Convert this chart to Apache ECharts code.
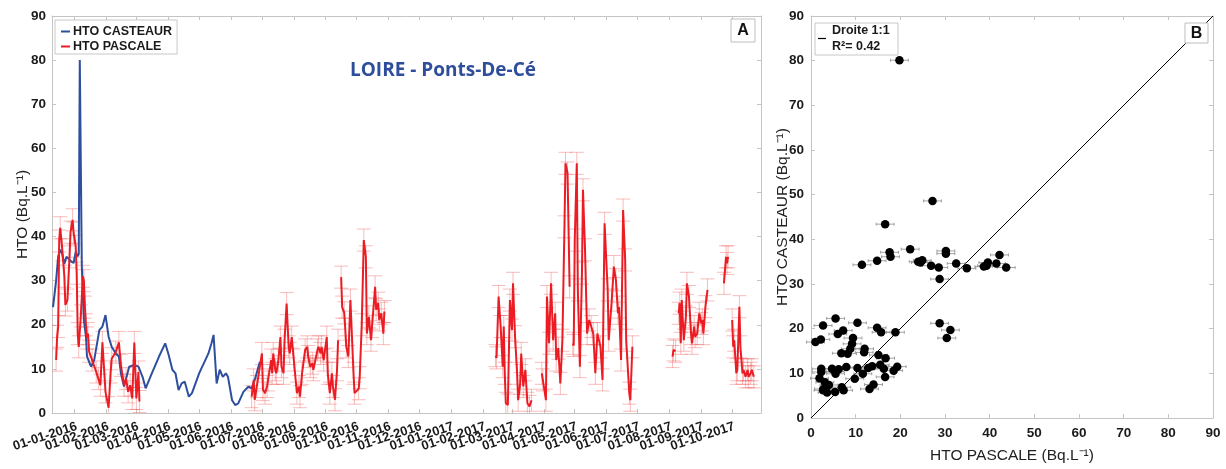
<!DOCTYPE html>
<html><head><meta charset="utf-8">
<script src="https://cdn.jsdelivr.net/npm/echarts@6/dist/echarts.min.js"></script>
<style>html,body{margin:0;padding:0;background:#fff}#c{width:1226px;height:469px}</style>
</head><body><div id="c"></div>
<script>
// ---------- DATA ----------
const TICK_LABELS = ['01-01-2016','01-02-2016','01-03-2016','01-04-2016','01-05-2016','01-06-2016','01-07-2016','01-08-2016','01-09-2016','01-10-2016','01-11-2016','01-12-2016','01-01-2017','01-02-2017','01-03-2017','01-04-2017','01-05-2017','01-06-2017','01-07-2017','01-08-2017','01-09-2017','01-10-2017'];
const X_RANGE_A = ['2015-12-10', '2017-10-29'];

const casteaur = [
['2015-12-11',24],['2015-12-14',30],['2015-12-16',35.5],['2015-12-18',37],['2015-12-20',36],['2015-12-22',33.8],['2015-12-24',35.4],['2015-12-26',35],['2015-12-29',34.3],['2015-12-31',34],
['2016-01-02',36.5],['2016-01-04',35.5],['2016-01-05',36],['2016-01-06',80],['2016-01-08',33],['2016-01-10',21],['2016-01-12',17.3],['2016-01-13',12.8],['2016-01-17',10.5],['2016-01-20',12],['2016-01-25',18.8],['2016-01-28',19.6],['2016-01-31',22.2],
['2016-02-03',17.3],['2016-02-06',15],['2016-02-10',13.5],['2016-02-13',12.8],['2016-02-15',9],['2016-02-18',6],['2016-02-23',10.5],['2016-02-28',10.9],
['2016-03-03',10.5],['2016-03-07',8.2],['2016-03-10',5.6],['2016-03-16',9],['2016-03-23',12.8],['2016-03-29',15.8],
['2016-04-01',13.5],['2016-04-05',9.8],['2016-04-08',9],['2016-04-11',5.2],['2016-04-14',6.7],['2016-04-17',7.1],['2016-04-21',3.7],['2016-04-24',4.5],
['2016-05-01',9],['2016-05-04',10.5],['2016-05-07',12],['2016-05-10',13.5],['2016-05-13',15.8],['2016-05-15',17.7],['2016-05-18',6.7],['2016-05-21',9.8],['2016-05-24',8.2],['2016-05-27',9],['2016-05-29',8.2],
['2016-06-02',2.9],['2016-06-05',1.8],['2016-06-08',2.2],['2016-06-13',4.8],['2016-06-18',6],['2016-06-21',5.6],['2016-06-24',7.5],['2016-06-29',11.6]
];

const pascale = [
['2015-12-14',12],['2015-12-15',17.4],['2015-12-16',19.6],['2015-12-17',39],['2015-12-18',42],['2015-12-20',37],['2015-12-22',31],['2015-12-23',24.5],['2015-12-25',25.6],['2015-12-27',35.4],['2015-12-28',41],['2015-12-30',43.8],['2015-12-31',40.8],
['2016-01-02',37.8],['2016-01-03',31.7],['2016-01-04',18],['2016-01-05',15],['2016-01-07',22],['2016-01-09',31],['2016-01-10',30],['2016-01-11',24],['2016-01-12',20],['2016-01-13',17],['2016-01-14',18],['2016-01-15',14],['2016-01-18',12],['2016-01-22',9.3],['2016-01-24',7.8],['2016-01-26',6.3],['2016-01-28',16],['2016-01-31',4.8],
['2016-02-03',1.2],['2016-02-05',9.3],['2016-02-06',12.3],['2016-02-10',13.8],['2016-02-13',16],['2016-02-15',10.8],['2016-02-18',6.3],['2016-02-20',7.8],['2016-02-22',4.8],['2016-02-24',6.3],['2016-02-26',3.3],['2016-02-28',16],
['2016-03-01',3.3],['2016-03-03',9.3],['2016-03-04',2.6],
['2016-03-05',null],
['2016-06-21',3.7],['2016-06-23',7.5],['2016-06-24',3],['2016-06-26',6],
['2016-07-01',13.5],['2016-07-02',5.3],['2016-07-04',4.5],['2016-07-06',6],['2016-07-07',7.5],['2016-07-10',12],['2016-07-11',9],['2016-07-12',13.5],['2016-07-14',9.8],['2016-07-15',9],['2016-07-17',12],['2016-07-19',17.2],['2016-07-20',10.5],['2016-07-22',9],['2016-07-23',16.5],['2016-07-25',24.8],['2016-07-27',15],['2016-07-28',13.5],['2016-07-30',17.2],
['2016-08-01',12],['2016-08-04',4.5],['2016-08-06',6],['2016-08-07',3.7],['2016-08-09',9],['2016-08-12',14.3],['2016-08-14',15],['2016-08-15',12.8],['2016-08-17',10.5],['2016-08-19',11.3],['2016-08-20',9.8],['2016-08-24',14.3],['2016-08-25',15],['2016-08-27',13.5],['2016-08-28',15],['2016-08-30',12],
['2016-09-02',17.2],['2016-09-03',9],['2016-09-05',4.5],['2016-09-07',9],['2016-09-08',6],['2016-09-10',3],['2016-09-12',9.8],['2016-09-13',16.5],
['2016-09-14',null],
['2016-09-16',30.8],['2016-09-17',24],['2016-09-19',22.7],['2016-09-20',19],['2016-09-21',15],['2016-09-23',12.8],['2016-09-25',25.6],['2016-09-28',9],['2016-09-29',4.5],
['2016-10-03',5.5],['2016-10-04',8],['2016-10-06',20],['2016-10-08',39.2],['2016-10-10',35.4],['2016-10-11',18],['2016-10-13',21.8],['2016-10-15',16.5],['2016-10-16',19.6],['2016-10-19',28.6],['2016-10-20',23.4],['2016-10-22',24.9],['2016-10-23',21.1],['2016-10-25',22.6],['2016-10-27',18],['2016-10-28',23],
['2016-10-29',null],
['2017-02-13',13],['2017-02-14',12.5],['2017-02-16',26.4],['2017-02-18',19.6],['2017-02-20',10.5],['2017-02-21',19.6],['2017-02-22',9],['2017-02-23',2.2],['2017-02-25',1.8],['2017-02-27',25.6],
['2017-03-01',18.8],['2017-03-02',29.4],['2017-03-04',17.3],['2017-03-06',9],['2017-03-07',2.9],['2017-03-09',6.7],['2017-03-10',13.5],['2017-03-12',6],['2017-03-14',9.8],['2017-03-16',2.2],['2017-03-18',1.5],['2017-03-20',2.9],
['2017-03-25',null],
['2017-03-30',9],['2017-03-31',7.5],['2017-04-03',2.9],['2017-04-04',26.4],['2017-04-06',15.8],['2017-04-08',29.4],['2017-04-10',16.5],['2017-04-12',22.6],['2017-04-13',12],['2017-04-15',14.7],['2017-04-17',6.7],['2017-04-19',16.5],['2017-04-21',42.2],['2017-04-22',56.6],['2017-04-24',54.4],['2017-04-26',28.6],
['2017-04-27',null],
['2017-04-29',15.8],['2017-04-30',15.3],['2017-05-01',39.2],['2017-05-03',56.6],['2017-05-04',27.9],['2017-05-06',10.5],['2017-05-08',31.7],['2017-05-09',50.6],['2017-05-11',37],['2017-05-13',18],['2017-05-15',21.1],['2017-05-17',19.6],['2017-05-19',18],['2017-05-21',9],['2017-05-23',18],['2017-05-26',15],['2017-05-28',7.5],['2017-05-30',43],
['2017-06-02',27.9],['2017-06-03',16.5],['2017-06-06',25.6],['2017-06-08',33.2],['2017-06-10',30.2],['2017-06-12',22.6],['2017-06-13',24],['2017-06-15',12],['2017-06-17',46],['2017-06-19',34.7],['2017-06-20',16.5],['2017-06-23',4.5],['2017-06-24',2.9],['2017-06-26',15],
['2017-06-27',null],
['2017-08-04',12.8],['2017-08-05',14.3],['2017-08-07',14],
['2017-08-08',null],
['2017-08-10',22.6],['2017-08-11',24.9],['2017-08-12',15.8],['2017-08-13',25.6],['2017-08-15',16.5],['2017-08-17',21.8],['2017-08-18',29.4],['2017-08-20',26.4],['2017-08-22',18],['2017-08-23',15.8],['2017-08-25',19.6],['2017-08-26',17.3],['2017-08-28',18],['2017-08-30',22.6],
['2017-09-01',20.3],['2017-09-02',21.1],['2017-09-03',18],['2017-09-05',24.1],['2017-09-07',27.9],
['2017-09-08',null],
['2017-09-23',29.4],['2017-09-25',35.4],['2017-09-26',33.9],['2017-09-27',35.4],
['2017-09-28',null],
['2017-10-01',21.1],['2017-10-02',15],['2017-10-03',16.5],['2017-10-05',9],['2017-10-06',9.8],['2017-10-08',24.1],['2017-10-09',15],['2017-10-11',9],['2017-10-12',9.8],['2017-10-14',8.2],['2017-10-16',9.8],['2017-10-17',8.2],['2017-10-19',9],['2017-10-20',9.8],['2017-10-22',8.2]
];
const PASCALE_ERR = 2.5;   // +/- Bq/L uncertainty shown by the error bars

// Panel B : [HTO PASCALE, HTO CASTEAUR]
const scatterB = [
[19.8,80.1],[27.2,48.6],[16.6,43.4],[22.2,37.8],[17.6,37.1],[17.8,36.1],[30.2,37.4],[30.2,36.8],[11.4,34.3],[14.8,35.2],[24.0,35.0],[24.9,35.3],[24.5,34.8],[26.9,34.1],[28.6,33.7],[28.8,31.1],[32.5,34.6],[34.9,33.5],[38.7,33.9],[39.3,34.1],[39.6,34.8],[41.5,34.6],[42.2,36.5],[43.7,33.7],
[5.5,22.3],[2.7,20.7],[10.4,21.3],[14.8,20.2],[15.7,19.2],[18.9,19.2],[7.2,19.6],[6.0,18.8],[2.2,17.6],[1.0,17.0],[9.4,17.9],[9.2,16.6],[8.8,15.5],[8.2,14.4],[6.8,14.5],[12.0,15.5],[11.9,14.7],[15.1,14.1],[16.7,13.4],[28.8,21.2],[31.2,19.7],[30.4,17.9],
[2.3,11.0],[2.3,10.3],[1.9,8.9],[4.7,11.0],[5.4,10.4],[6.2,10.9],[5.5,9.9],[7.9,11.4],[10.4,11.2],[11.6,9.9],[12.8,11.2],[13.7,11.6],[15.5,11.9],[16.3,11.0],[16.6,9.2],[18.5,10.6],[19.3,11.5],[9.8,8.8],[3.1,8.0],[4.0,7.4],[2.8,6.5],[3.6,5.7],[5.4,5.8],[6.9,6.9],[7.3,6.2],[13.1,6.5],[14.0,7.5],[2.7,6.2]
];
const SCATTER_ERR = 2;
const oneToOne = [[0,0],[90,90]];
const R2_TEXT = 'R²= 0.42';

// ---------- helpers ----------
function ts(s){ const p = s.split('-').map(Number); return new Date(p[0], p[1]-1, p[2]).getTime(); }
function tsLabel(s){ const p = s.split('-').map(Number); return new Date(p[2], p[1]-1, p[0]).getTime(); }
const tickVals = TICK_LABELS.map(tsLabel);
const castData = casteaur.map(d => [ts(d[0]), d[1]]);
const pascData = pascale.map(d => [ts(d[0]), d[1]]);
const pascPts = pascData.filter(d => d[1] != null);
const xMin = ts(X_RANGE_A[0]), xMax = ts(X_RANGE_A[1]);
const labelVals = [xMin].concat(tickVals, [xMax]);   // empty end labels absorb min/max-label handling

const AX = '#c4c4c4';
const FONT = "'Liberation Sans', Arial, sans-serif";
const BLUE = '#2d4f9e', RED = '#ec1c24';

function fmtTick(v){
  const i = tickVals.indexOf(v);
  return i >= 0 ? TICK_LABELS[i] : '';
}

const tick = {show:true, inside:true, length:4, lineStyle:{color:AX, width:1}};
const line = {show:true, onZero:false, lineStyle:{color:AX, width:1}};
const lab = {fontFamily:FONT, fontWeight:'bold', color:'#1a1a1a'};

function errA(params, api){
  const x = api.value(0), y = api.value(1);
  const t = api.coord([x, y + PASCALE_ERR]), b = api.coord([x, y - PASCALE_ERR]);
  const hw = 7, st = {stroke:'rgba(238,80,80,0.38)', lineWidth:1};
  return {type:'group', children:[
    {type:'line', shape:{x1:t[0], y1:t[1], x2:b[0], y2:b[1]}, style:st},
    {type:'line', shape:{x1:t[0]-hw, y1:t[1], x2:t[0]+hw, y2:t[1]}, style:st},
    {type:'line', shape:{x1:b[0]-hw, y1:b[1], x2:b[0]+hw, y2:b[1]}, style:st}
  ]};
}
function errB(params, api){
  const x = api.value(0), y = api.value(1);
  const l = api.coord([x - SCATTER_ERR, y]), r = api.coord([x + SCATTER_ERR, y]);
  const st = {stroke:'#8c8c8c', lineWidth:0.8};
  return {type:'group', children:[
    {type:'line', shape:{x1:l[0], y1:l[1], x2:r[0], y2:r[1]}, style:st},
    {type:'line', shape:{x1:l[0], y1:l[1]-1.5, x2:l[0], y2:l[1]+1.5}, style:st},
    {type:'line', shape:{x1:r[0], y1:r[1]-1.5, x2:r[0], y2:r[1]+1.5}, style:st}
  ]};
}

const chart = echarts.init(document.getElementById('c'), null, {renderer:'canvas'});

chart.setOption({
  animation:false,
  backgroundColor:'#fff',
  grid:[
    {left:52, top:16, width:709, height:397, containLabel:false},
    {left:811, top:16, width:402, height:403, containLabel:false}
  ],
  xAxis:[
    {type:'value', gridIndex:0, min:xMin, max:xMax, axisLine:line,
     axisTick:Object.assign({customValues:tickVals}, tick),
     axisLabel:Object.assign({customValues:labelVals, rotate:18, fontSize:13, margin:7, formatter:fmtTick,
       align:'right', verticalAlign:'top',
       hideOverlap:false, showMinLabel:true, showMaxLabel:true}, lab),
     splitLine:{show:false}},
    {type:'value', gridIndex:0, position:'top', min:xMin, max:xMax, axisLine:line,
     axisTick:Object.assign({customValues:tickVals}, tick), axisLabel:{show:false}, splitLine:{show:false}},
    {type:'value', gridIndex:1, min:0, max:90, interval:10, axisLine:line, axisTick:tick,
     axisLabel:Object.assign({fontSize:13.5, margin:8}, lab), splitLine:{show:false},
     name:'HTO PASCALE (Bq.L⁻¹)', nameLocation:'middle', nameGap:30, nameMoveOverlap:false,
     nameTextStyle:{fontFamily:FONT, fontSize:15.5, color:'#222'}},
    {type:'value', gridIndex:1, position:'top', min:0, max:90, interval:10, axisLine:line, axisTick:tick,
     axisLabel:{show:false}, splitLine:{show:false}}
  ],
  yAxis:[
    {type:'value', gridIndex:0, min:0, max:90, interval:10, axisLine:line, axisTick:tick,
     axisLabel:Object.assign({fontSize:13.5, margin:6}, lab), splitLine:{show:false},
     name:'HTO (Bq.L⁻¹)', nameLocation:'middle', nameGap:21, nameMoveOverlap:false,
     nameTextStyle:{fontFamily:FONT, fontSize:15.5, color:'#222'}},
    {type:'value', gridIndex:0, position:'right', min:0, max:90, interval:10, axisLine:line, axisTick:tick,
     axisLabel:{show:false}, splitLine:{show:false}},
    {type:'value', gridIndex:1, min:0, max:90, interval:10, axisLine:line, axisTick:tick,
     axisLabel:Object.assign({fontSize:13.5, margin:7}, lab), splitLine:{show:false},
     name:'HTO CASTEAUR (Bq.L⁻¹)', nameLocation:'middle', nameGap:20, nameMoveOverlap:false,
     nameTextStyle:{fontFamily:FONT, fontSize:15.5, color:'#222'}},
    {type:'value', gridIndex:1, position:'right', min:0, max:90, interval:10, axisLine:line, axisTick:tick,
     axisLabel:{show:false}, splitLine:{show:false}}
  ],
  legend:{
    data:[{name:'HTO CASTEAUR', icon:'rect'}, {name:'HTO PASCALE', icon:'rect'}],
    left:55, top:20, orient:'vertical', itemWidth:9, itemHeight:2, itemGap:2,
    padding:[5,5,1,6], borderColor:'#c8c8c8', borderWidth:1, backgroundColor:'#fff',
    textStyle:{fontFamily:FONT, fontWeight:'bold', fontSize:12.5, color:'#1a1a1a', padding:[0,0,0,-2]}
  },
  graphic:[
    {type:'text', x:443, y:71, z:10, style:{text:'LOIRE - Ponts-De-Cé', align:'center', verticalAlign:'middle',
      font:"bold 19px 'Open Sans', Lato, sans-serif", fill:'#2e4e9c'}},
    {type:'rect', shape:{x:731, y:19, width:24, height:23}, z:10, style:{fill:'#fff', stroke:'#bdbdbd', lineWidth:1}},
    {type:'text', x:743, y:31, z:11, style:{text:'A', align:'center', verticalAlign:'middle', font:"bold 16px 'Liberation Sans', Arial", fill:'#111'}},
    {type:'rect', shape:{x:1185, y:23, width:23, height:20}, z:10, style:{fill:'#fff', stroke:'#bdbdbd', lineWidth:1}},
    {type:'text', x:1196.5, y:33.5, z:11, style:{text:'B', align:'center', verticalAlign:'middle', font:"bold 16px 'Liberation Sans', Arial", fill:'#111'}},
    {type:'rect', shape:{x:815, y:23, width:83, height:32}, z:10, style:{fill:'#fff', stroke:'#c8c8c8', lineWidth:1}},
    {type:'line', shape:{x1:818, y1:38.5, x2:826, y2:38.5}, z:11, style:{stroke:'#000', lineWidth:1.2}},
    {type:'text', x:832, y:31, z:11, style:{text:'Droite 1:1', verticalAlign:'middle', font:"bold 12.5px 'Liberation Sans', Arial", fill:'#1a1a1a'}},
    {type:'text', x:832, y:47, z:11, style:{text:R2_TEXT, verticalAlign:'middle', font:"bold 12.5px 'Liberation Sans', Arial", fill:'#1a1a1a'}}
  ],
  series:[
    {type:'custom', name:'errA', xAxisIndex:0, yAxisIndex:0, data:pascPts, renderItem:errA, clip:true, silent:true, z:1,
     encode:{x:0, y:1}},
    {type:'line', name:'HTO CASTEAUR', xAxisIndex:0, yAxisIndex:0, data:castData, symbol:'none', showSymbol:false,
     lineStyle:{color:BLUE, width:2}, itemStyle:{color:BLUE}, z:3, clip:true},
    {type:'line', name:'HTO PASCALE', xAxisIndex:0, yAxisIndex:0, data:pascData, symbol:'none', showSymbol:false,
     connectNulls:false, lineStyle:{color:RED, width:2}, itemStyle:{color:RED}, z:4, clip:true},
    {type:'line', name:'Droite 1:1', xAxisIndex:2, yAxisIndex:2, data:oneToOne, symbol:'none',
     lineStyle:{color:'#000', width:1}, itemStyle:{color:'#000'}, z:2},
    {type:'custom', name:'errB', xAxisIndex:2, yAxisIndex:2, data:scatterB, renderItem:errB, silent:true, z:3, encode:{x:0, y:1}},
    {type:'scatter', name:'points', xAxisIndex:2, yAxisIndex:2, data:scatterB, symbolSize:8.5,
     itemStyle:{color:'#000', opacity:1}, z:4}
  ]
});
</script></body></html>
